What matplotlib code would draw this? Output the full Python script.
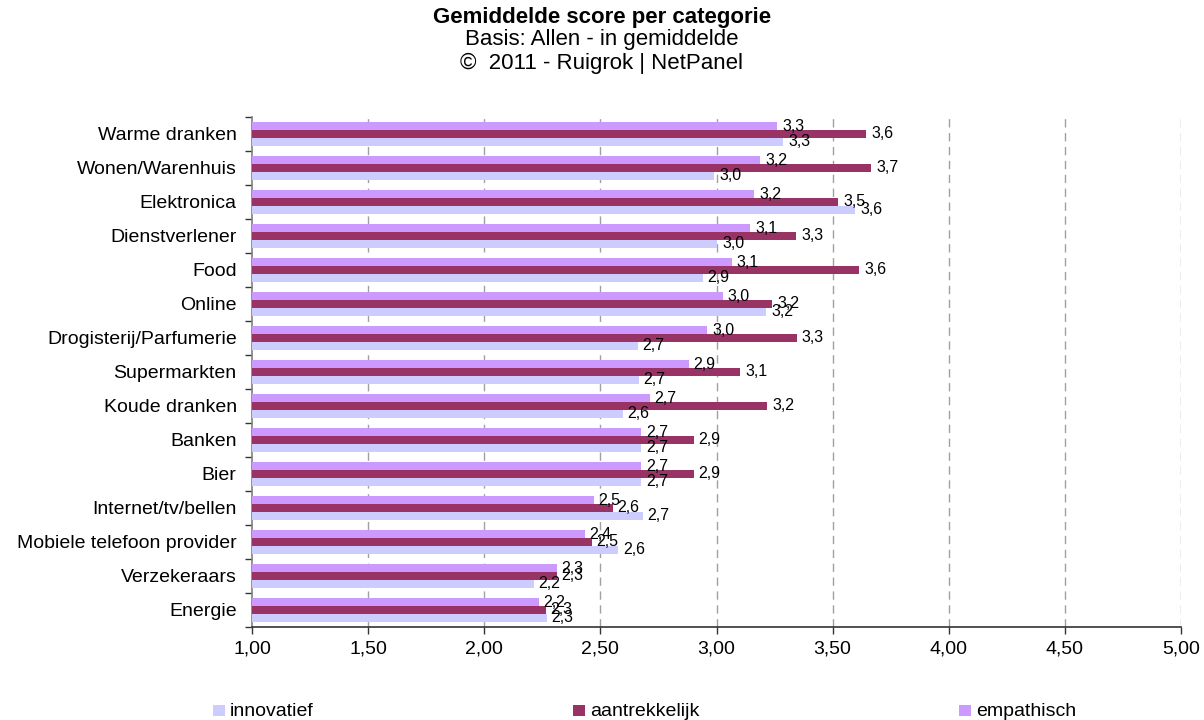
import matplotlib
matplotlib.use("Agg")
import matplotlib.pyplot as plt
from matplotlib.patches import Rectangle
import numpy as np

plt.rcParams['font.family'] = ['Liberation Sans', 'DejaVu Sans']

categories = [
    "Warme dranken", "Wonen/Warenhuis", "Elektronica", "Dienstverlener", "Food",
    "Online", "Drogisterij/Parfumerie", "Supermarkten", "Koude dranken", "Banken",
    "Bier", "Internet/tv/bellen", "Mobiele telefoon provider", "Verzekeraars", "Energie",
]
innovatief = [3.287, 2.991, 3.598, 3.004, 2.940, 3.215, 2.660, 2.665, 2.596, 2.677,
              2.677, 2.682, 2.578, 2.213, 2.269]
aantrekkelijk = [3.645, 3.667, 3.525, 3.344, 3.615, 3.241, 3.345, 3.103, 3.219, 2.901,
                 2.901, 2.553, 2.462, 2.312, 2.265]
empathisch = [3.261, 3.189, 3.163, 3.146, 3.065, 3.026, 2.961, 2.880, 2.712, 2.677,
              2.677, 2.471, 2.432, 2.312, 2.234]

series_names = ["innovatief", "aantrekkelijk", "empathisch"]
series_colors = ["#CCCCFF", "#993366", "#CC99FF"]
x_ticks = [1.0, 1.5, 2.0, 2.5, 3.0, 3.5, 4.0, 4.5, 5.0]

title = "Gemiddelde score per categorie"
subtitle_lines = ["Basis: Allen - in gemiddelde", "\u00a9  2011 - Ruigrok | NetPanel"]

fig = plt.figure(figsize=(12.04, 7.2), dpi=100)
ax = fig.add_axes([252 / 1204, 1 - 627 / 720, (1181 - 252) / 1204, (627 - 117) / 720])

y = np.arange(len(categories))
h = 0.226
# empathisch on top, aantrekkelijk in the middle, innovatief at the bottom of each group
offsets = {"empathisch": -h, "aantrekkelijk": 0.0, "innovatief": h}
data = {"innovatief": innovatief, "aantrekkelijk": aantrekkelijk, "empathisch": empathisch}

for name, color in zip(series_names, series_colors):
    vals = np.array(data[name])
    ypos = y + offsets[name]
    ax.barh(ypos, vals - 1.0, left=1.0, height=h, color=color, edgecolor='none', zorder=3)
    for v, yy in zip(vals, ypos):
        ax.annotate(f"{v:.1f}".replace('.', ','), xy=(v, yy), xytext=(3.5, 0),
                    textcoords='offset points', ha='left', va='center',
                    fontsize=11.5, color='black', zorder=4)

ax.set_xlim(1.0, 5.0)
ax.set_ylim(len(categories) - 0.5, -0.5)

ax.set_xticks(x_ticks)
ax.set_xticklabels([f"{t:.2f}".replace('.', ',') for t in x_ticks], fontsize=14)
ax.tick_params(axis='x', direction='out', length=5, width=1, color='#333333', pad=5)

ax.set_yticks(y)
ax.set_yticklabels(categories, fontsize=14)
ax.tick_params(axis='y', which='major', length=0, pad=11)
ax.set_yticks(np.arange(len(categories) + 1) - 0.5, minor=True)
ax.tick_params(axis='y', which='minor', direction='out', length=5, width=1, color='#333333')

for t in x_ticks[1:]:
    ax.axvline(t, color='#A0A0A0', linestyle=(0, (6, 4)), linewidth=1.0, zorder=1)

for side in ['top', 'right']:
    ax.spines[side].set_visible(False)
ax.spines['left'].set_color('#808080')
ax.spines['left'].set_linewidth(1.2)
ax.spines['bottom'].set_color('#333333')
ax.spines['bottom'].set_linewidth(1.2)

fig.text(0.5, 1 - 17 / 720, title, ha='center', va='center', fontsize=16, fontweight='bold')
fig.text(0.5, 1 - 40 / 720, subtitle_lines[0], ha='center', va='center', fontsize=16)
fig.text(0.5, 1 - 63 / 720, subtitle_lines[1], ha='center', va='center', fontsize=16)

# legend laid out along the bottom of the figure
legend_x = [213, 573, 959]
for name, color, lx in zip(series_names, series_colors, legend_x):
    fig.add_artist(Rectangle((lx / 1204, 1 - 716 / 720), 12 / 1204, 11 / 720,
                             transform=fig.transFigure, facecolor=color, edgecolor='none'))
    fig.text((lx + 17) / 1204, 1 - 711 / 720, name, ha='left', va='center', fontsize=14)

fig.savefig("out.png", dpi=100)
